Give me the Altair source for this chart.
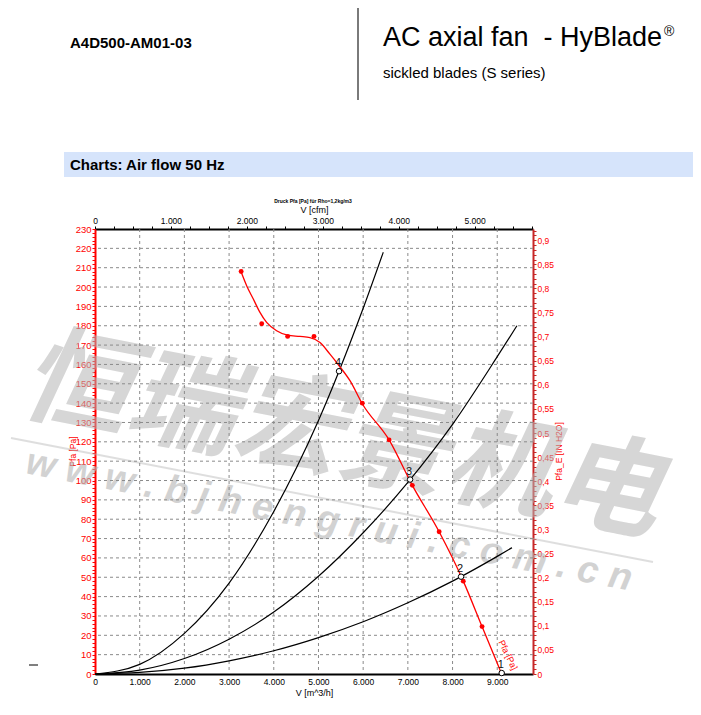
import altair as alt
import pandas as pd

# ---------------- data ----------------
# fan curve (red line), flow in m³/h, pressure in Pa
curve_flow = [3266, 3393, 3542, 3691, 3840, 4064, 4310, 4586, 4810, 5034, 5257, 5466,
              5705, 5980, 6580, 7100, 7700, 8240, 8660, 9100]
curve_pfa = [208, 200.7, 193.8, 186.9, 181.7, 177.4, 175.1, 174.5, 173.9, 171.3, 165.3, 159.2,
             151.6, 139.7, 121, 97.5, 73.5, 48, 24.5, 0]

# measured points (red dots)
dot_flow = [3270, 3730, 4310, 4900, 5980, 6580, 7100, 7700, 8240, 8660]
dot_pfa = [208, 181, 174.5, 174.5, 140, 121, 97.5, 73.5, 48, 24.5]

# system curves (black)
sysA_flow = [0, 1000, 2000, 3000, 4000, 5000, 6000, 6450]
sysA_pfa = [0, 5, 21, 47, 84, 131, 189, 218]
sysB_flow = [0, 1000, 2000, 3000, 4000, 5000, 6000, 7000, 8000, 9000, 9440]
sysB_pfa = [0, 2, 8, 18, 32, 50.5, 73, 99, 129, 164, 180]
sysC_flow = [0, 1000, 2000, 3000, 4000, 5000, 6000, 7000, 8000, 9000, 9330]
sysC_pfa = [0, 0.8, 3, 6.8, 12, 18.8, 27, 36.8, 48, 60.8, 65.3]

# operating points
op_flow = [9100, 8190, 7050, 5460]
op_pfa = [0.5, 50.3, 100.5, 156.5]
op_label = ["1", "2", "3", "4"]

# axis ticks
x_ticks = [0, 1000, 2000, 3000, 4000, 5000, 6000, 7000, 8000, 9000]
x_grid = [1000, 2000, 3000, 4000, 5000, 6000, 7000, 8000, 9000]
y_ticks = list(range(0, 231, 2))
y_grid = list(range(10, 230, 10))
cfm_ticks = list(range(0, 5751, 250))
inh_ticks = [round(i * 0.01, 2) for i in range(0, 93)]

X_MAX = 9800
Y_MAX = 230
PA_PER_INH2O = 249.089
M3H_PER_CFM = 1.699

W, H = 438, 445
FONT = "Liberation Sans"
RED = "#ff0000"
DARKRED = "#c82828"

x_scale = alt.Scale(domain=[0, X_MAX], nice=False, zero=True)
y_scale = alt.Scale(domain=[0, Y_MAX], nice=False, zero=True)

x_axis = alt.Axis(
    orient="bottom", values=x_ticks, grid=False, ticks=False,
    labelExpr="replace(format(datum.value, ','), ',', '.')",
    labelFont=FONT, labelFontSize=8.5, labelColor="#000", labelPadding=3,
    labelFlush=False,
    domainColor="#000", domainWidth=2,
    title="V [m^3/h]", titleFont=FONT, titleFontSize=9, titleFontWeight="normal",
    titleColor="#000", titleX=219, titleY=18, titleBaseline="middle",
)
y_axis = alt.Axis(
    orient="left", values=y_ticks, grid=False,
    labelExpr="datum.value % 10 == 0 ? datum.value : ''",
    labelFont=FONT, labelFontSize=9.5, labelColor=RED, labelPadding=1,
    labelFlush=False,
    tickColor=RED, tickSize=3, domainColor=RED, domainWidth=2,
    title="Pfa [Pa]", titleFont=FONT, titleFontSize=8.5, titleFontWeight="normal",
    titleColor=RED, titleAngle=270, titleX=-23, titleY=222,
    titleBaseline="middle", titleAlign="center",
)


def X(field):
    return alt.X(field, type="quantitative", scale=x_scale, axis=x_axis)


def Y(field):
    return alt.Y(field, type="quantitative", scale=y_scale, axis=y_axis)


def txt(text, x, y, **kw):
    return alt.Chart(pd.DataFrame({"t": [text]})).mark_text(**kw).encode(
        x=alt.value(x), y=alt.value(y), text="t:N")


def prule(x, x2, y, y2, **kw):
    return alt.Chart(pd.DataFrame({"a": [0]})).mark_rule(**kw).encode(
        x=alt.value(x), x2=alt.value(x2), y=alt.value(y), y2=alt.value(y2))


# ---------------- watermark ----------------
wm_chars = txt("恒瑞宏景机电", 246, 210, font="Noto Sans CJK SC", fontSize=108,
               fontWeight="bold", fontStyle="italic", angle=11, align="center",
               baseline="middle", color="#b5b5b5", opacity=0.55)
wm_url = txt("w w w . b j h e n g r u i . c o m . c n", 234, 292, font=FONT, fontSize=38,
             fontWeight="bold", fontStyle="italic", angle=11, align="center",
             baseline="middle", color="#b5b5b5", opacity=0.6)
wm_line = prule(-84, 558, 209, 333, color="#b5b5b5", strokeWidth=2, opacity=0.45)

# ---------------- grid ----------------
grid_v = alt.Chart(pd.DataFrame({"v": x_grid})).mark_rule(
    color="#8a8a8a", strokeDash=[3, 3], strokeWidth=1).encode(x=X("v"))
grid_h = alt.Chart(pd.DataFrame({"v": y_grid})).mark_rule(
    color="#8a8a8a", strokeDash=[3, 3], strokeWidth=1).encode(y=Y("v"))

# ---------------- curves ----------------
sys_df = pd.concat([
    pd.DataFrame({"flow": sysA_flow, "pfa": sysA_pfa, "c": "A"}),
    pd.DataFrame({"flow": sysB_flow, "pfa": sysB_pfa, "c": "B"}),
    pd.DataFrame({"flow": sysC_flow, "pfa": sysC_pfa, "c": "C"}),
])
sys_lines = alt.Chart(sys_df).mark_line(color="#000", strokeWidth=1.2, interpolate="monotone").encode(
    x=X("flow"), y=Y("pfa"), detail="c:N")

fan_df = pd.DataFrame({"flow": curve_flow, "pfa": curve_pfa})
fan_line = alt.Chart(fan_df).mark_line(color=RED, strokeWidth=1.3, interpolate="monotone").encode(
    x=X("flow"), y=Y("pfa"))

dot_df = pd.DataFrame({"flow": dot_flow, "pfa": dot_pfa})
fan_dots = alt.Chart(dot_df).mark_circle(color=RED, size=24, opacity=1).encode(
    x=X("flow"), y=Y("pfa"))

op_df = pd.DataFrame({"flow": op_flow, "pfa": op_pfa, "lab": op_label})
op_pts = alt.Chart(op_df).mark_point(shape="circle", filled=True, fill="#fff", stroke="#000",
                                      strokeWidth=1, size=30, opacity=1).encode(
    x=X("flow"), y=Y("pfa"))
op_txt = alt.Chart(op_df).mark_text(font=FONT, fontSize=11, dy=-8, dx=-1, color="#111").encode(
    x=X("flow"), y=Y("pfa"), text="lab:N")

fan_lab = txt("Pfa [Pa]", 413, 426, font=FONT, fontSize=9, angle=64, align="center",
              baseline="middle", color=RED)

# ---------------- header ----------------
hdr_code = txt("A4D500-AM01-03", -25, -181, font=FONT, fontSize=15, fontWeight="bold",
               align="left", baseline="alphabetic", color="#000")
hdr_vline = prule(263, 263, -229, -129, color="#7a7a7a", strokeWidth=2)
hdr_title = txt("AC axial fan\u00a0 - HyBlade", 288, -183, font=FONT, fontSize=27,
                align="left", baseline="alphabetic", color="#000")
hdr_reg = txt("®", 569, -193, font=FONT, fontSize=14, align="left",
              baseline="alphabetic", color="#000")
hdr_sub = txt("sickled blades (S series)", 288, -151, font=FONT, fontSize=15,
              align="left", baseline="alphabetic", color="#000")
bar = alt.Chart(pd.DataFrame({"a": [0]})).mark_rect(color="#d6e4fb").encode(
    x=alt.value(-31), x2=alt.value(620), y=alt.value(-77), y2=alt.value(-52))
bar_txt = txt("Charts: Air flow 50 Hz", -25, -59, font=FONT, fontSize=15, fontWeight="bold",
              align="left", baseline="alphabetic", color="#000")
tiny_title = txt("Druck Pfa [Pa] für Rho=1,2kg/m3", 218, -28, font=FONT, fontSize=5,
                 fontWeight="bold", align="center", baseline="middle", color="#000")
dash = prule(-66, -57, 436, 436, color="#000", strokeWidth=1)

main = alt.layer(
    wm_chars, wm_url, wm_line,
    grid_v, grid_h,
    bar, bar_txt, hdr_code, hdr_vline, hdr_title, hdr_reg, hdr_sub, tiny_title, dash,
    sys_lines, fan_line, fan_dots, op_pts, op_txt, fan_lab,
)

# ---------------- secondary axes (top: cfm, right: in H2O) ----------------
sec_df = pd.DataFrame({"cfm": [0], "inh": [0]})
sec = alt.Chart(sec_df).mark_point(opacity=0).encode(
    x=alt.X("cfm:Q", scale=alt.Scale(domain=[0, X_MAX / M3H_PER_CFM], nice=False),
            axis=alt.Axis(
                orient="top", values=cfm_ticks, grid=False,
                labelExpr="datum.value % 1000 == 0 ? replace(format(datum.value, ','), ',', '.') : ''",
                labelFont=FONT, labelFontSize=8.5, labelColor="#000", labelPadding=1,
                labelFlush=False,
                tickColor="#000", tickSize=3, domainColor="#000", domainWidth=2,
                title="V [cfm]", titleFont=FONT, titleFontSize=9, titleFontWeight="normal",
                titleColor="#000", titleX=219, titleY=-19.5, titleBaseline="middle")),
    y=alt.Y("inh:Q", scale=alt.Scale(domain=[0, Y_MAX / PA_PER_INH2O], nice=False),
            axis=alt.Axis(
                orient="right", values=inh_ticks, grid=False,
                labelExpr="abs(datum.value*20 - round(datum.value*20)) < 0.001 ? replace(format(datum.value, '~g'), '.', ',') : ''",
                labelFont=FONT, labelFontSize=8.5, labelColor=RED, labelPadding=1,
                labelFlush=False,
                tickColor=DARKRED, tickSize=3, domainColor=DARKRED, domainWidth=2,
                title="Pfa_E [IN H2O]", titleFont=FONT, titleFontSize=8.5,
                titleFontWeight="normal", titleColor=RED, titleAngle=270,
                titleX=25, titleY=222, titleBaseline="middle", titleAlign="center")),
)

chart = alt.layer(main, sec).resolve_scale(x="independent", y="independent").properties(
    width=W, height=H,
    autosize=alt.AutoSizeParams(type="none"),
    padding={"left": 87, "top": 221, "right": 160, "bottom": 33},
    background="#ffffff",
).configure_view(stroke=None)

chart.save("out.html", embed_options={"renderer": "svg", "actions": False})
